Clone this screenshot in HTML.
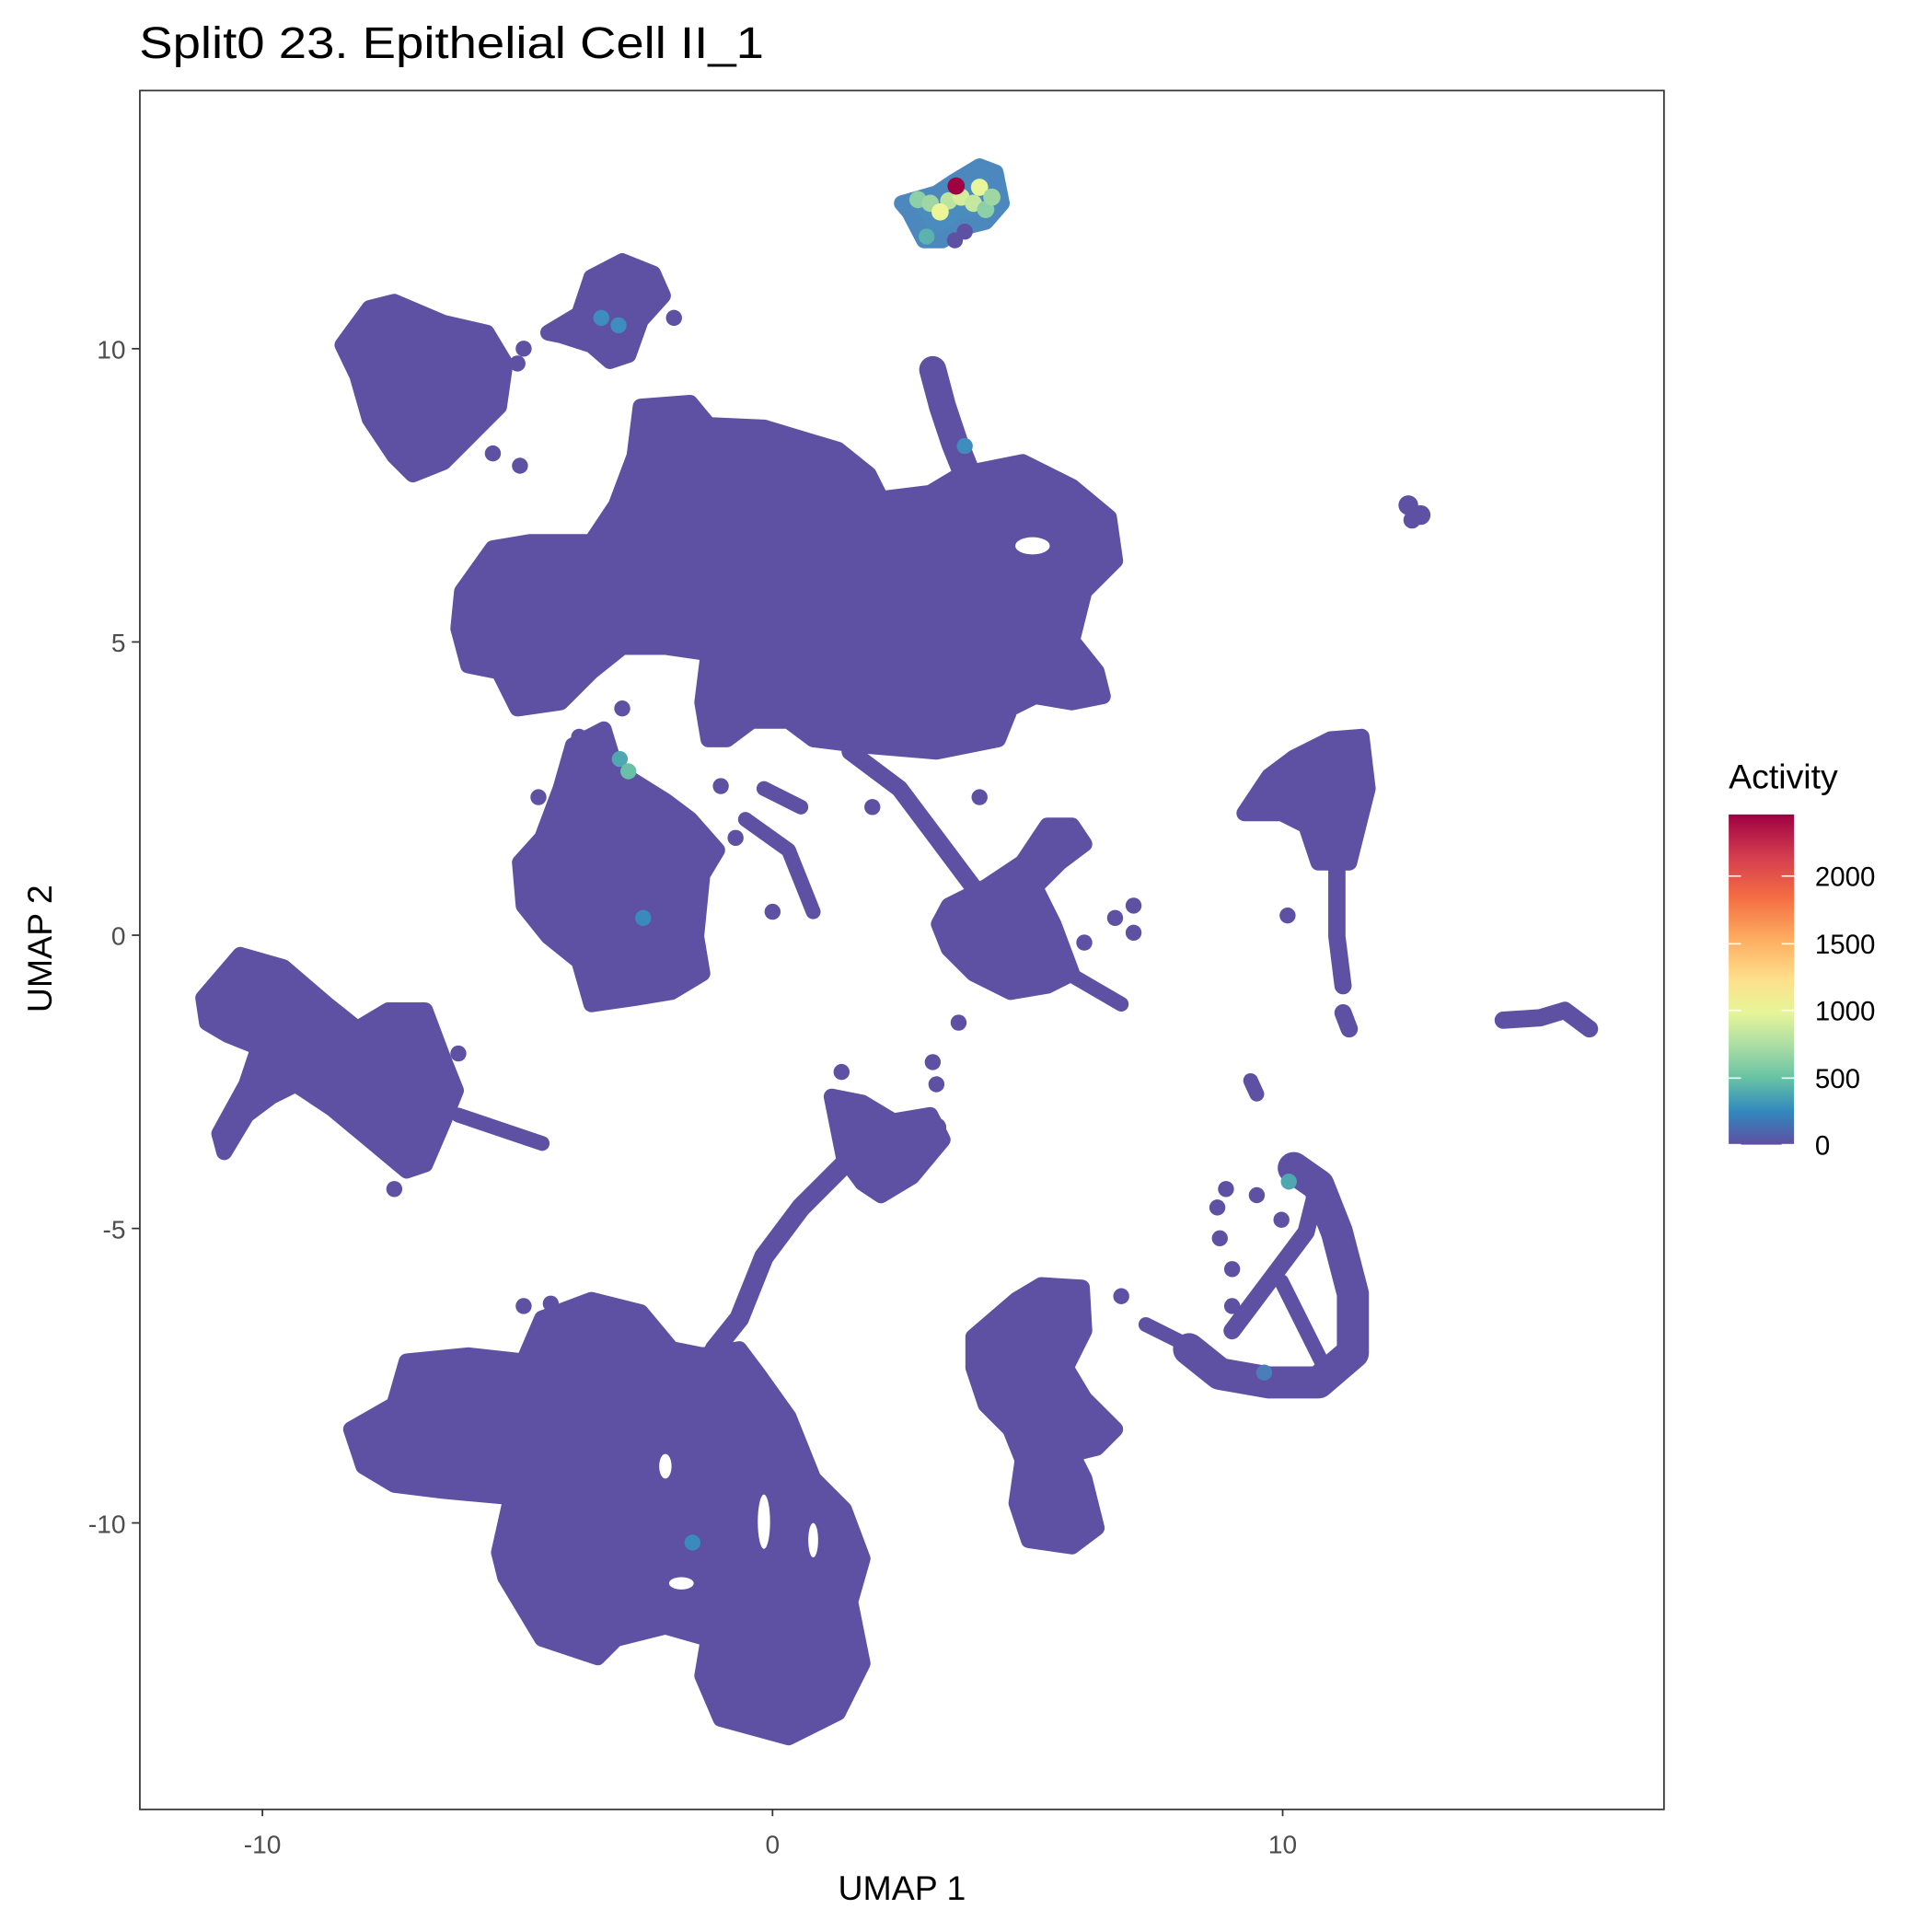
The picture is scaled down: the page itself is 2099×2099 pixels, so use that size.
<!DOCTYPE html>
<html><head><meta charset="utf-8"><style>
html,body{margin:0;padding:0;background:#fff;}
svg{display:block;}
text{font-family:"Liberation Sans",sans-serif;}
</style></head><body>
<svg width="2099" height="2099" viewBox="0 0 1568 1568" xmlns="http://www.w3.org/2000/svg">
<defs>
<linearGradient id="cb" x1="0" y1="1" x2="0" y2="0">
<stop offset="0" stop-color="#5E4FA2"/>
<stop offset="0.1" stop-color="#3288BD"/>
<stop offset="0.2" stop-color="#66C2A5"/>
<stop offset="0.3" stop-color="#ABDDA4"/>
<stop offset="0.4" stop-color="#E6F598"/>
<stop offset="0.5" stop-color="#FEE08B"/>
<stop offset="0.62" stop-color="#FDAE61"/>
<stop offset="0.75" stop-color="#F46D43"/>
<stop offset="0.87" stop-color="#D53E4F"/>
<stop offset="1" stop-color="#9E0142"/>
</linearGradient>
</defs>
<text x="113" y="47" font-size="36" textLength="507" lengthAdjust="spacingAndGlyphs">Split0 23. Epithelial Cell II_1</text>
<g fill="#5E50A2" stroke="#5E50A2" stroke-width="13" stroke-linejoin="round" stroke-linecap="round">
<polygon points="278,280 300,250 320,245 360,262 395,270 410,295 405,330 385,350 360,375 335,385 320,370 300,340 290,305"/>
<polygon points="445,270 470,255 480,225 505,212 530,222 538,240 520,260 510,288 495,293 480,280 455,272"/>
<polygon points="375,480 400,445 430,440 480,440 500,410 515,370 520,330 560,327 575,345 620,347 680,365 705,385 715,405 755,400 780,385 830,375 870,395 900,420 905,455 880,480 870,520 890,545 895,565 870,570 840,565 820,575 810,600 760,610 700,605 660,600 640,585 610,585 590,600 575,600 570,570 575,530 540,525 505,525 480,545 455,570 420,575 405,545 380,540 372,510"/>
<polyline fill="none" stroke-width="22" points="757,300 765,330 775,360 785,385"/>
<polygon points="440,680 455,640 465,605 490,592 500,625 540,650 560,665 582,690 570,710 565,760 570,790 545,805 515,810 480,815 470,780 445,760 425,735 422,700"/>
<polyline fill="none" stroke-width="14" points="690,610 730,640 760,680 790,720 800,745"/>
<polyline fill="none" stroke-width="12" points="605,665 640,690 660,740"/>
<polyline fill="none" stroke-width="12" points="620,640 650,655"/>
<polygon points="770,735 800,720 830,700 850,670 870,670 880,685 860,700 840,720 855,750 870,790 850,800 820,805 790,790 770,770 762,750"/>
<polyline fill="none" stroke-width="12" points="850,780 910,815"/>
<polygon points="165,810 195,775 230,785 265,815 290,835 315,820 345,820 360,860 370,885 360,910 345,945 330,950 300,925 270,900 240,880 220,890 200,905 182,935 178,920 200,880 210,850 185,840 168,830"/>
<polyline fill="none" stroke-width="12" points="372,905 440,928"/>
<polyline fill="none" stroke-width="16" points="580,1095 600,1070 620,1020 650,980 690,940 720,920 760,915"/>
<polygon points="675,890 700,895 725,910 755,905 765,925 740,955 715,970 700,960 685,940"/>
<polygon points="285,1160 320,1140 330,1105 380,1100 425,1105 440,1070 480,1055 520,1065 545,1095 570,1100 600,1095 615,1115 640,1150 660,1200 685,1225 700,1265 690,1300 700,1350 680,1390 640,1410 585,1395 570,1360 575,1330 540,1320 500,1330 485,1345 440,1330 410,1280 405,1260 415,1215 360,1210 320,1205 295,1190"/>
<polygon points="790,1085 825,1055 845,1043 878,1045 880,1080 865,1110 880,1135 905,1160 890,1175 870,1180 880,1200 890,1240 870,1255 835,1250 825,1220 830,1185 820,1160 800,1140 790,1110"/>
<polyline fill="none" stroke-width="12" points="930,1075 960,1090"/>
<polyline fill="none" stroke-width="26" points="965,1095 990,1115 1030,1122 1070,1122 1098,1098 1098,1050 1085,1000 1070,962 1050,948"/>
<polyline fill="none" stroke-width="14" points="1000,1080 1030,1040 1060,1000 1070,960"/>
<polyline fill="none" stroke-width="12" points="1040,1040 1060,1080 1075,1110"/>
<polygon points="1050,615 1080,600 1105,598 1110,640 1095,700 1070,700 1060,670 1040,660 1010,660 1030,630"/>
<polyline fill="none" stroke-width="14" points="1085,700 1085,760 1090,800"/>
<polyline fill="none" stroke-width="14" points="1090,822 1095,835"/>
<polyline fill="none" stroke-width="14" points="1220,828 1250,826 1270,820 1290,835"/>
<polyline fill="none" stroke-width="12" points="1015,877 1020,888"/>
<polygon points="732,165 760,157 775,147 795,135 808,140 813,165 800,180 780,185 765,195 750,195 738,172" fill="#4A8CBE" stroke="#4C88BE"/>
</g>
<g fill="#5E50A2">
<circle cx="1143" cy="410" r="8"/><circle cx="1153" cy="418" r="8"/><circle cx="1146" cy="422" r="7"/>
<circle cx="420" cy="295" r="6.5"/><circle cx="425" cy="283" r="6.5"/><circle cx="422" cy="378" r="6.5"/><circle cx="400" cy="368" r="6.5"/>
<circle cx="547" cy="258" r="6.5"/>
<circle cx="437" cy="647" r="6.5"/><circle cx="505" cy="575" r="6.5"/><circle cx="470" cy="598" r="6.5"/><circle cx="585" cy="638" r="6.5"/><circle cx="597" cy="680" r="6.5"/>
<circle cx="627" cy="740" r="6.5"/><circle cx="708" cy="655" r="6.5"/><circle cx="795" cy="647" r="6.5"/>
<circle cx="880" cy="765" r="6.5"/><circle cx="905" cy="745" r="6.5"/><circle cx="920" cy="735" r="6.5"/><circle cx="920" cy="757" r="6.5"/><circle cx="778" cy="830" r="6.5"/>
<circle cx="320" cy="965" r="6.5"/><circle cx="372" cy="855" r="6.5"/>
<circle cx="683" cy="870" r="6.5"/><circle cx="757" cy="862" r="6.5"/><circle cx="760" cy="880" r="6.5"/>
<circle cx="425" cy="1060" r="6.5"/><circle cx="447" cy="1058" r="6.5"/>
<circle cx="910" cy="1052" r="6.5"/>
<circle cx="995" cy="965" r="6.5"/><circle cx="1020" cy="970" r="6.5"/><circle cx="988" cy="980" r="6.5"/><circle cx="1000" cy="1030" r="6.5"/><circle cx="990" cy="1005" r="6.5"/><circle cx="1000" cy="1060" r="6.5"/><circle cx="1040" cy="990" r="6.5"/>
<circle cx="1045" cy="743" r="6.5"/>
<circle cx="775" cy="195" r="6.5"/><circle cx="783" cy="188" r="6.5"/>
<circle cx="830" cy="455" r="6.5"/>
</g>
<g fill="#fff">
<ellipse cx="838" cy="443" rx="14" ry="7"/>
<ellipse cx="620" cy="1235" rx="5" ry="22"/>
<ellipse cx="553" cy="1285" rx="10" ry="5"/>
<ellipse cx="540" cy="1190" rx="5" ry="10"/>
<ellipse cx="660" cy="1250" rx="4" ry="14"/>
</g>
<g>
<circle cx="745" cy="162" r="7" fill="#8DCFA6"/>
<circle cx="755" cy="165" r="7" fill="#9ED7A4"/>
<circle cx="770" cy="163" r="7" fill="#BDE3A0"/>
<circle cx="780" cy="160" r="7" fill="#D4EC9C"/>
<circle cx="795" cy="152" r="7" fill="#E9F59B"/>
<circle cx="790" cy="165" r="7" fill="#C6E7A0"/>
<circle cx="800" cy="170" r="7" fill="#8DCFA6"/>
<circle cx="805" cy="160" r="7" fill="#9ED7A4"/>
<circle cx="763" cy="172" r="7" fill="#EEF597"/>
<circle cx="752" cy="192" r="6.5" fill="#5BB2AE"/>
<circle cx="776" cy="151" r="7" fill="#9E0142"/>
<circle cx="488" cy="258" r="6.5" fill="#3F8DBF"/>
<circle cx="502" cy="264" r="6.5" fill="#3F8DBF"/>
<circle cx="783" cy="362" r="6.5" fill="#3F8DBF"/>
<circle cx="503" cy="616" r="6.5" fill="#4FA7B0"/>
<circle cx="510" cy="626" r="6.5" fill="#6AC0A6"/>
<circle cx="522" cy="745" r="6.5" fill="#3A8ABD"/>
<circle cx="562" cy="1252" r="6.5" fill="#3A8ABD"/>
<circle cx="1046" cy="959" r="6.5" fill="#4FA7B0"/>
<circle cx="1026" cy="1114" r="6.5" fill="#4A7DBA"/>
</g>
<rect x="113.5" y="73.5" width="1237" height="1395" fill="none" stroke="#333" stroke-width="1.3"/>
<g stroke="#333" stroke-width="1.3">
<line x1="213" y1="1468" x2="213" y2="1474"/>
<line x1="627" y1="1468" x2="627" y2="1474"/>
<line x1="1041" y1="1468" x2="1041" y2="1474"/>
<line x1="107" y1="283" x2="113" y2="283"/>
<line x1="107" y1="521" x2="113" y2="521"/>
<line x1="107" y1="759" x2="113" y2="759"/>
<line x1="107" y1="997" x2="113" y2="997"/>
<line x1="107" y1="1236" x2="113" y2="1236"/>
</g>
<g fill="#4D4D4D" font-size="21">
<text x="213" y="1504" text-anchor="middle">-10</text>
<text x="627" y="1504" text-anchor="middle">0</text>
<text x="1041" y="1504" text-anchor="middle">10</text>
<text x="102" y="291" text-anchor="end">10</text>
<text x="102" y="529" text-anchor="end">5</text>
<text x="102" y="767" text-anchor="end">0</text>
<text x="102" y="1005" text-anchor="end">-5</text>
<text x="102" y="1244" text-anchor="end">-10</text>
</g>
<text x="732" y="1542" font-size="28" text-anchor="middle">UMAP 1</text>
<text transform="translate(42,770) rotate(-90)" font-size="28" text-anchor="middle">UMAP 2</text>
<text x="1403" y="640" font-size="28">Activity</text>
<rect x="1403" y="661" width="53" height="268" fill="url(#cb)"/>
<g stroke="#fff" stroke-width="1.2">
<line x1="1403" y1="711" x2="1413" y2="711"/><line x1="1446" y1="711" x2="1456" y2="711"/>
<line x1="1403" y1="766" x2="1413" y2="766"/><line x1="1446" y1="766" x2="1456" y2="766"/>
<line x1="1403" y1="820" x2="1413" y2="820"/><line x1="1446" y1="820" x2="1456" y2="820"/>
<line x1="1403" y1="875" x2="1413" y2="875"/><line x1="1446" y1="875" x2="1456" y2="875"/>
<line x1="1403" y1="929" x2="1413" y2="929"/><line x1="1446" y1="929" x2="1456" y2="929"/>
</g>
<g font-size="22" fill="#000">
<text x="1473" y="719">2000</text>
<text x="1473" y="774">1500</text>
<text x="1473" y="828">1000</text>
<text x="1473" y="883">500</text>
<text x="1473" y="937">0</text>
</g>
</svg>
</body></html>
